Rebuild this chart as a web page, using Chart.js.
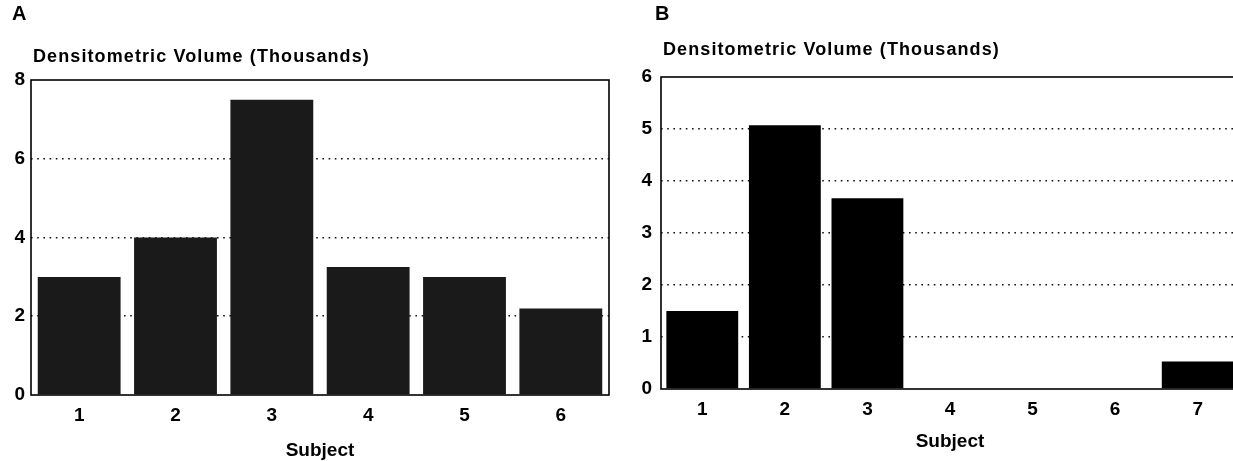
<!DOCTYPE html>
<html>
<head>
<meta charset="utf-8">
<script src="https://cdn.jsdelivr.net/npm/chart.js@4"></script>
<style>
  html, body { margin: 0; padding: 0; background: #fff; }
  body { width: 1233px; height: 461px; overflow: hidden; position: relative; }
  canvas { position: absolute; top: 0; }
  #panelA { left: 0; }
  #panelB { left: 620px; }
</style>
</head>
<body>
<canvas id="panelA" width="620" height="461"></canvas>
<canvas id="panelB" width="640" height="461"></canvas>
<script>
// Panel A: densitometric volume per subject (thousands)
const subjectsA = ['1', '2', '3', '4', '5', '6'];
const volumeA = [3.0, 4.0, 7.5, 3.25, 3.0, 2.2];
const yMaxA = 8;
const yStepA = 2;

// Panel B: densitometric volume per subject (thousands)
const subjectsB = ['1', '2', '3', '4', '5', '6', '7'];
const volumeB = [1.5, 5.07, 3.67, 0, 0, 0, 0.53];
const yMaxB = 6;
const yStepB = 1;

const yHeading = 'Densitometric Volume (Thousands)';
const xHeading = 'Subject';
const FONT = "'Liberation Sans', Arial, Helvetica, sans-serif";

// Panel letter, left heading above the plot and a frame around the plot area
const panelDecor = {
  id: 'panelDecor',
  afterDatasetsDraw(chart, args, opts) {
    const { ctx, chartArea } = chart;
    ctx.save();
    ctx.strokeStyle = '#000';
    ctx.lineWidth = 1.6;
    ctx.strokeRect(chartArea.left, chartArea.top,
                   chartArea.right - chartArea.left, chartArea.bottom - chartArea.top);
    ctx.fillStyle = '#000';
    ctx.textBaseline = 'middle';
    ctx.textAlign = 'left';
    ctx.font = 'bold 20px ' + FONT;
    ctx.fillText(opts.letter, chartArea.left + opts.letterDx, opts.letterY);
    ctx.font = 'bold 18px ' + FONT;
    ctx.letterSpacing = '1.1px';
    ctx.fillText(opts.heading, chartArea.left + opts.headingDx, opts.headingY);
    ctx.restore();
  }
};

function makeChart(id, labels, values, yMax, yStep, color, geo) {
  return new Chart(document.getElementById(id), {
    type: 'bar',
    data: {
      labels: labels,
      datasets: [{
        data: values,
        backgroundColor: color,
        borderWidth: 0,
        barPercentage: geo.barPct,
        categoryPercentage: 1.0
      }]
    },
    options: {
      responsive: false,
      animation: false,
      devicePixelRatio: 1,
      layout: { padding: { top: geo.top, right: geo.right, left: 0, bottom: 0 } },
      plugins: {
        legend: { display: false },
        tooltip: { enabled: false },
        panelDecor: geo.decor
      },
      scales: {
        x: {
          grid: { display: false, drawTicks: false },
          border: { display: false },
          ticks: {
            color: '#000',
            padding: geo.xTickPad,
            font: { family: FONT, size: 19, weight: 'bold' }
          },
          title: {
            display: true,
            text: xHeading,
            color: '#000',
            font: { family: FONT, size: 19, weight: 'bold', lineHeight: 1 },
            padding: { top: 0, bottom: geo.xTitlePad }
          },
          afterFit(scale) { scale.height = geo.xAxisH; }
        },
        y: {
          min: 0,
          max: yMax,
          grid: {
            drawTicks: false,
            lineWidth: 1.6,
            color: (c) => (c.tick && (c.tick.value === 0 || c.tick.value === yMax)) ? 'rgba(0,0,0,0)' : '#111'
          },
          border: { display: false, dash: [1.6, 4.6] },
          ticks: {
            stepSize: yStep,
            color: '#000',
            padding: geo.yTickPad,
            font: { family: FONT, size: 19, weight: 'bold' }
          },
          afterFit(scale) { scale.width = geo.yAxisW; }
        }
      }
    },
    plugins: [panelDecor]
  });
}

makeChart('panelA', subjectsA, volumeA, yMaxA, yStepA, '#1a1a1a', {
  barPct: 0.86, top: 80, right: 11, xAxisH: 66, yAxisW: 31,
  xTickPad: 9, xTitlePad: 1, yTickPad: 6,
  decor: { letter: 'A', letterDx: -19, letterY: 14, heading: yHeading, headingDx: 2, headingY: 57 }
});

makeChart('panelB', subjectsB, volumeB, yMaxB, yStepB, '#000', {
  barPct: 0.87, top: 77, right: 21, xAxisH: 72, yAxisW: 41,
  xTickPad: 9, xTitlePad: 10, yTickPad: 9,
  decor: { letter: 'B', letterDx: -6, letterY: 14, heading: yHeading, headingDx: 2, headingY: 50 }
});
</script>
</body>
</html>
